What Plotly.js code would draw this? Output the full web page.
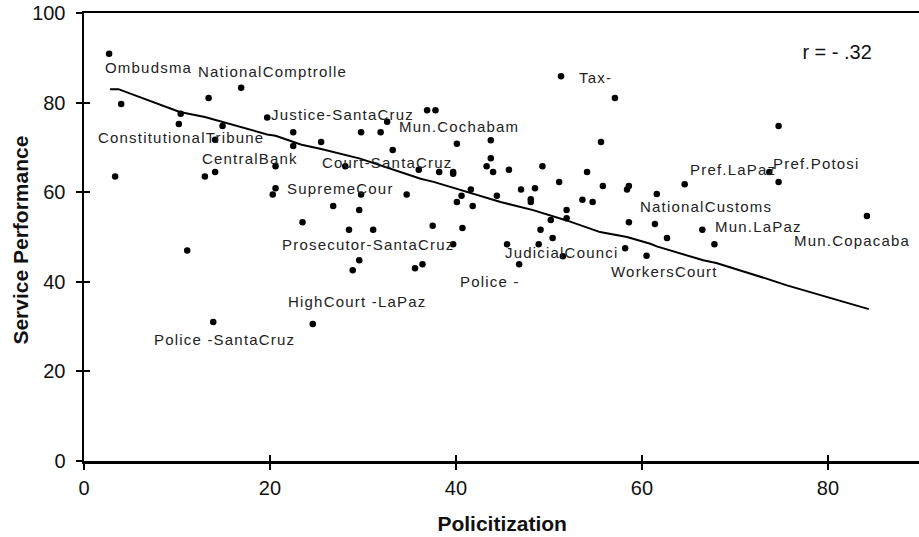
<!DOCTYPE html>
<html>
<head>
<meta charset="utf-8">
<script src="https://cdn.plot.ly/plotly-3.0.1.min.js"></script>
<style>
  html, body { margin: 0; padding: 0; background: #fff; overflow: hidden; }
  #chart { width: 919px; height: 537px; }
  .annotation-text { letter-spacing: 1.2px; }
  .annotation[data-index="20"] .annotation-text,
  .annotation[data-index="21"] .annotation-text,
  .annotation[data-index="22"] .annotation-text { letter-spacing: 0px; }
</style>
</head>
<body>
<div id="chart"></div>
<script>
// Scatter points: politicization (x) vs service performance (y)
const pointX = [2.7, 16.9, 13.4, 4.0, 10.4, 10.2, 14.9, 14.1, 3.35, 13.0, 14.1, 11.1, 13.9,
  19.7, 22.5, 22.5, 25.5, 29.8, 31.9, 32.6, 33.2, 20.6, 28.1, 20.6, 20.3, 29.8, 34.7, 26.8,
  29.6, 23.5, 28.5, 31.1, 29.6, 28.9, 24.6,
  51.3, 36.9, 37.8, 43.75, 40.1, 43.75, 43.3, 44.0, 45.7, 49.3, 36.0, 38.2, 39.7, 39.7, 51.1,
  41.6, 40.6, 40.1, 41.8, 44.4, 47.0, 48.5, 48.05, 48.05, 51.9, 51.9, 50.2, 37.5, 40.7, 49.1,
  50.4, 39.7, 45.5, 48.9, 51.5, 46.8, 36.4, 35.6,
  57.1, 55.6, 54.1, 55.8, 58.6, 58.4, 64.6, 61.6, 53.6, 54.7, 58.6, 61.4, 62.7, 66.5, 67.8,
  58.2, 60.5, 74.7, 73.7, 74.7, 84.2];
const pointY = [90.9, 83.3, 81.0, 79.7, 77.5, 75.2, 74.8, 71.7, 63.5, 63.5, 64.5, 47.0, 31.0,
  76.7, 73.4, 70.3, 71.2, 73.4, 73.4, 75.7, 69.4, 65.8, 65.8, 60.9, 59.5, 59.5, 59.5, 56.9,
  56.0, 53.3, 51.6, 51.6, 44.8, 42.6, 30.6,
  85.9, 78.3, 78.3, 71.6, 70.8, 67.6, 65.8, 64.5, 65.0, 65.8, 65.0, 64.5, 64.5, 64.1, 62.3,
  60.6, 59.2, 57.8, 56.9, 59.2, 60.6, 60.9, 58.4, 57.8, 56.0, 54.2, 53.8, 52.5, 52.0, 51.6,
  49.8, 48.4, 48.4, 48.4, 45.7, 43.9, 43.9, 43.0,
  81.0, 71.2, 64.5, 61.4, 61.4, 60.6, 61.8, 59.6, 58.3, 57.8, 53.3, 52.9, 49.8, 51.6, 48.4,
  47.5, 45.8, 74.8, 64.5, 62.3, 54.7];

// Smoothed fit line
const fitX = [2.8, 3.7, 10.3, 13.0, 19.7, 20.6, 23.4, 25.4, 29.7, 36.2, 37.6, 41.2, 44.8, 48.3,
  51.9, 55.5, 58.4, 60.9, 61.6, 66.6, 68.0, 73.4, 75.6, 84.4];
const fitY = [83.0, 83.0, 77.9, 76.8, 72.9, 72.6, 70.6, 69.7, 67.5, 63.0, 62.3, 60.0, 57.8, 56.0,
  53.7, 51.1, 50.0, 48.5, 47.9, 44.8, 44.2, 40.7, 39.2, 33.9];

// Point labels (text and where they sit, in data units)
const labelText = ["Ombudsma", "NationalComptrolle", "Justice-SantaCruz", "Mun.Cochabam",
  "ConstitutionalTribune", "CentralBank", "Court-SantaCruz", "SupremeCour",
  "Prosecutor-SantaCruz", "HighCourt -LaPaz", "Police -SantaCruz", "Police -",
  "JudicialCounci", "WorkersCourt", "Tax-", "Pref.LaPaz", "Pref.Potosi",
  "NationalCustoms", "Mun.LaPaz", "Mun.Copacaba"];
const labelX = [6.9, 20.27, 27.8, 40.3, 10.38, 17.9, 32.65, 27.6, 30.56, 29.4, 15.1, 43.7,
  51.4, 62.4, 55.0, 69.75, 78.8, 66.85, 72.5, 82.6];
const labelY = [87.9, 87.0, 77.4, 74.7, 72.1, 67.6, 66.6, 60.9, 48.4, 35.5, 27.1, 40.0,
  46.65, 42.2, 85.5, 65.0, 66.4, 56.9, 52.4, 49.3];

const corrText = "r = - .32";
const corrX = 81.0, corrY = 91.2;

const xTitle = "Policitization";
const yTitle = "Service Performance";

const xTicks = [0, 20, 40, 60, 80];
const yTicks = [0, 20, 40, 60, 80, 100];

const FONT = "Liberation Sans, Arial, Helvetica, sans-serif";

const W = 919, H = 537;
const M = { l: 84, r: 0, t: 13, b: 76 };
const plotW = W - M.l - M.r, plotH = H - M.t - M.b;

const annotations = labelText.map((t, i) => ({
  x: labelX[i], y: labelY[i], xref: "x", yref: "y", text: t, showarrow: false,
  xanchor: "center", yanchor: "middle",
  font: { family: FONT, size: 15, color: "#222" }
}));
annotations.push({
  x: corrX, y: corrY, xref: "x", yref: "y", text: corrText, showarrow: false,
  xanchor: "center", yanchor: "middle",
  font: { family: FONT, size: 20, color: "#111" }
});
// axis titles placed in paper space
annotations.push({
  x: 0.5, y: -(523 - M.t - plotH) / plotH, xref: "paper", yref: "paper",
  text: xTitle, showarrow: false, xanchor: "center", yanchor: "middle",
  font: { family: FONT, size: 21, color: "#111", weight: "bold" }
});
annotations.push({
  x: (20 - M.l) / plotW, y: 1 - (240 - M.t) / plotH, xref: "paper", yref: "paper",
  text: yTitle, showarrow: false, xanchor: "center", yanchor: "middle", textangle: -90,
  font: { family: FONT, size: 21, color: "#111", weight: "bold" }
});

const traces = [
  { x: fitX, y: fitY, mode: "lines", type: "scatter", line: { color: "#000", width: 2 },
    hoverinfo: "skip", showlegend: false },
  { x: pointX, y: pointY, mode: "markers", type: "scatter",
    marker: { color: "#000", size: 6.5, line: { width: 0 } }, showlegend: false },
  { x: [null], y: [null], xaxis: "x2", yaxis: "y2", mode: "markers", type: "scatter",
    showlegend: false, hoverinfo: "skip" }
];

const axisCommon = {
  showgrid: false, zeroline: false, showline: true, linecolor: "#000", linewidth: 2.5,
  tickcolor: "#000", tickwidth: 2, ticklen: 6, ticks: "outside",
  tickfont: { family: FONT, size: 20, color: "#111" }, fixedrange: true
};

const layout = {
  width: W, height: H,
  margin: M,
  paper_bgcolor: "#fff", plot_bgcolor: "#fff",
  showlegend: false,
  font: { family: FONT },
  xaxis: Object.assign({}, axisCommon, {
    range: [0, 89.8], tickvals: xTicks, ticktext: xTicks.map(String), mirror: true,
    ticklabelstandoff: 1
  }),
  yaxis: Object.assign({}, axisCommon, {
    range: [0, 100], tickvals: yTicks, ticktext: yTicks.map(String),
    ticklabelstandoff: 6
  }),
  xaxis2: { overlaying: "x", matches: "x", anchor: "y", showline: false, showgrid: false,
    zeroline: false, ticks: "inside", ticklen: 6, tickwidth: 2, tickcolor: "#000",
    tickvals: xTicks, showticklabels: false, range: [0, 89.8], fixedrange: true },
  yaxis2: { overlaying: "y", matches: "y", anchor: "x", showline: false, showgrid: false,
    zeroline: false, ticks: "inside", ticklen: 6, tickwidth: 2, tickcolor: "#000",
    tickvals: yTicks, showticklabels: false, range: [0, 100], fixedrange: true },
  annotations: annotations
};

Plotly.newPlot("chart", traces, layout, { displayModeBar: false, staticPlot: true });
</script>
</body>
</html>
